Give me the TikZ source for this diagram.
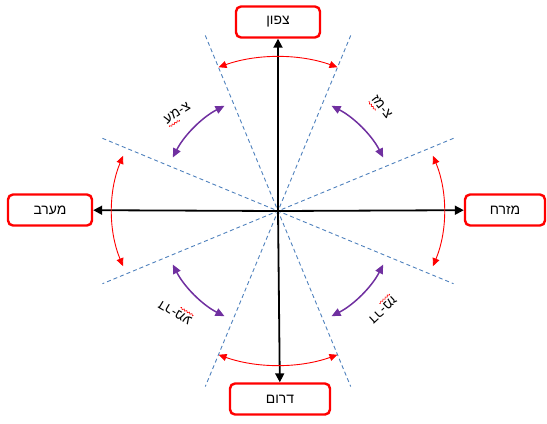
\documentclass[tikz,border=0pt]{standalone}
\usepackage{fontspec}
\newfontfamily\hebfont[Script=Hebrew]{Liberation Sans}
\TeXXeTstate=1
\usepackage{tikz}
\usetikzlibrary{arrows.meta}
\usetikzlibrary{calc}
\usetikzlibrary{decorations.pathmorphing}
\definecolor{dashblue}{HTML}{4F81BD}
\definecolor{purp}{HTML}{7030A0}
\newcommand{\heb}[1]{{\hebfont\beginR #1\endR}}

\begin{document}
\begin{tikzpicture}[x=1bp,y=1bp,
    dirbox/.style={draw=red,line width=2.4bp,rounded corners=5bp,fill=white,inner sep=0pt,minimum height=31bp,font=\fontsize{14}{16}\selectfont},
    axis/.style={line width=1.8bp,-{Triangle[length=9bp,width=9bp]}},
    sector/.style={draw=dashblue,line width=0.9bp,dash pattern=on 4bp off 3bp},
    mainarc/.style={red,line width=0.9bp,{Triangle[length=8bp,width=7bp]}-{Triangle[length=8bp,width=7bp]}},
    midarc/.style={purp,line width=1.5bp,{Triangle[length=9bp,width=8bp]}-{Triangle[length=9bp,width=8bp]}},
    midlabel/.style={inner xsep=1bp,inner ysep=3bp,font=\fontsize{13.5}{15}\selectfont},
    squiggle/.style={draw=red,line width=0.6bp,decorate,decoration={snake,amplitude=0.8bp,segment length=3bp}}]
    \useasboundingbox (-278,-212) rectangle (269,211);
    \coordinate (o) at (0,0);
    % sector borders
    \foreach \ang in {22.5,67.5,112.5,157.5}
      \draw[sector] (\ang:190) -- (\ang+180:190);
    % main directions
    \node[dirbox,minimum width=84bp] (n) at (0,189) {\heb{צפון}};
    \node[dirbox,minimum width=100bp] (s) at (2,-188) {\heb{דרום}};
    \node[dirbox,minimum width=84bp] (w) at (-228,1) {\heb{מערב}};
    \node[dirbox,minimum width=80bp] (e) at (227,1) {\heb{מזרח}};
    \foreach \dir in {n,e,s,w}
      \draw[axis] (o) -- (\dir);
    % red arcs
    \foreach \ang in {0,90,180,270}
      \draw[mainarc] (\ang-21:166 and 154) arc[start angle=\ang-21,end angle=\ang+21,x radius=166,y radius=154];
    % purple arcs
    \foreach \ang in {45,135,225,315}
      \draw[midarc] (\ang-18:118) arc[start angle=\ang-18,end angle=\ang+18,radius=118];
    % in-between directions
    \node[midlabel,rotate=33] (nw) at (-101,98) {\heb{צ-מע}};
    \node[midlabel,rotate=-52] (ne) at (104,104) {\heb{צ-מז}};
    \node[midlabel,rotate=149] (sw) at (-103,-102) {\heb{דר-מע}};
    \node[midlabel,rotate=-137] (se) at (105,-99) {\heb{דר-מז}};
    \foreach \lab in {nw,ne,sw,se}
      \draw[squiggle] ($(\lab.south west)!0.05!(\lab.south east)$) -- ($(\lab.south west)!0.45!(\lab.south east)$);
\end{tikzpicture}
\end{document}
